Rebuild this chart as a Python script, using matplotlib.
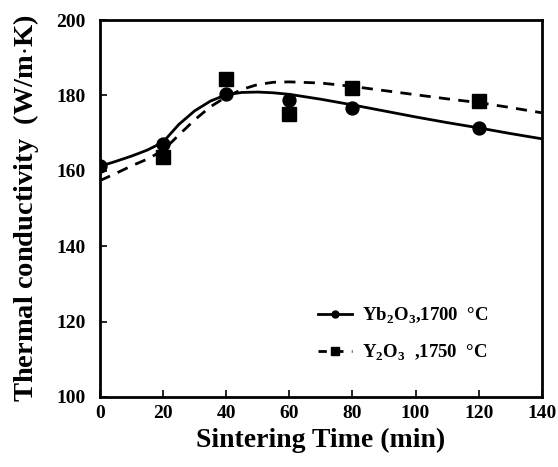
import matplotlib
matplotlib.use("Agg")
import matplotlib.pyplot as plt
from matplotlib.lines import Line2D

plt.rcParams['font.family'] = ['Liberation Serif', 'DejaVu Serif']
plt.rcParams['font.weight'] = 'bold'
plt.rcParams['mathtext.fontset'] = 'custom'
plt.rcParams['mathtext.rm'] = 'Liberation Serif:bold'
plt.rcParams['mathtext.bf'] = 'Liberation Serif:bold'

# measured points
time_min = [0, 20, 40, 60, 80, 120]
yb2o3_k = [161.2, 167.2, 180.3, 178.8, 176.8, 171.3]
y2o3_time = [20, 40, 60, 80, 120]
y2o3_k = [163.8, 184.3, 175.2, 182.1, 178.6]

# fitted trend lines
fit_time = [0, 5, 10, 15, 20, 25, 30, 35, 40, 45, 50, 55, 60, 70, 80, 90, 100, 110, 120, 130, 140]
yb2o3_fit = [161.2, 162.5, 163.9, 165.5, 167.6, 172.3, 175.9, 178.5, 180.2, 180.8, 180.9,
             180.7, 180.3, 179.0, 177.5, 175.9, 174.3, 172.8, 171.4, 169.9, 168.5]
y2o3_fit = [157.4, 159.3, 161.3, 163.1, 165.4, 169.5, 173.5, 177.0, 179.6, 181.6, 182.9,
            183.5, 183.6, 183.3, 182.4, 181.3, 180.2, 179.1, 178.1, 176.8, 175.4]

fig = plt.figure(figsize=(5.58, 4.67), dpi=100)
ax = fig.add_axes([0.179, 0.150, 0.792, 0.807])

ax.plot(fit_time, yb2o3_fit, color='black', lw=2)
ax.plot(fit_time, y2o3_fit, color='black', lw=2, ls=(0, (4, 3)))
ax.plot(time_min, yb2o3_k, 'o', color='black', ms=9.3, ls='none')
ax.plot(y2o3_time, y2o3_k, 's', color='black', ms=9.5, ls='none')

ax.set_xlim(0, 140)
ax.set_ylim(100, 200)
ax.set_xticks(range(0, 141, 20))
ax.set_yticks(range(100, 201, 20))
ax.tick_params(direction='in', length=5, width=1.2, labelsize=14)
ax.tick_params(axis='x', pad=6)
ax.tick_params(axis='y', pad=10)
for lab in ax.get_xticklabels() + ax.get_yticklabels():
    lab.set_fontweight('bold')
for sp in ax.spines.values():
    sp.set_linewidth(2)

ax.set_xlabel('Sintering Time (min)', fontsize=20, fontweight='bold', labelpad=4)
ax.set_ylabel('Thermal conductivity  (W/m$\\cdot$K)', fontsize=20.5, fontweight='bold')
ax.yaxis.set_label_coords(-0.134, 0.5)

handles = [
    Line2D([], [], color='black', lw=2, marker='o', ms=5),
    Line2D([], [], color='black', lw=2, ls=(0, (3, 3)), marker='s', ms=6),
]
labels = [r'Yb$_2$O$_3$,1700  °C', r'Y$_2$O$_3$  ,1750  °C']
ax.legend(handles, labels, loc='center left', bbox_to_anchor=(0.493, 0.166), frameon=False,
          borderpad=0, borderaxespad=0, handlelength=1.8, handletextpad=0.55,
          labelspacing=0.9, prop={'weight': 'bold', 'size': 13.5})

fig.savefig('out.png', dpi=100)
